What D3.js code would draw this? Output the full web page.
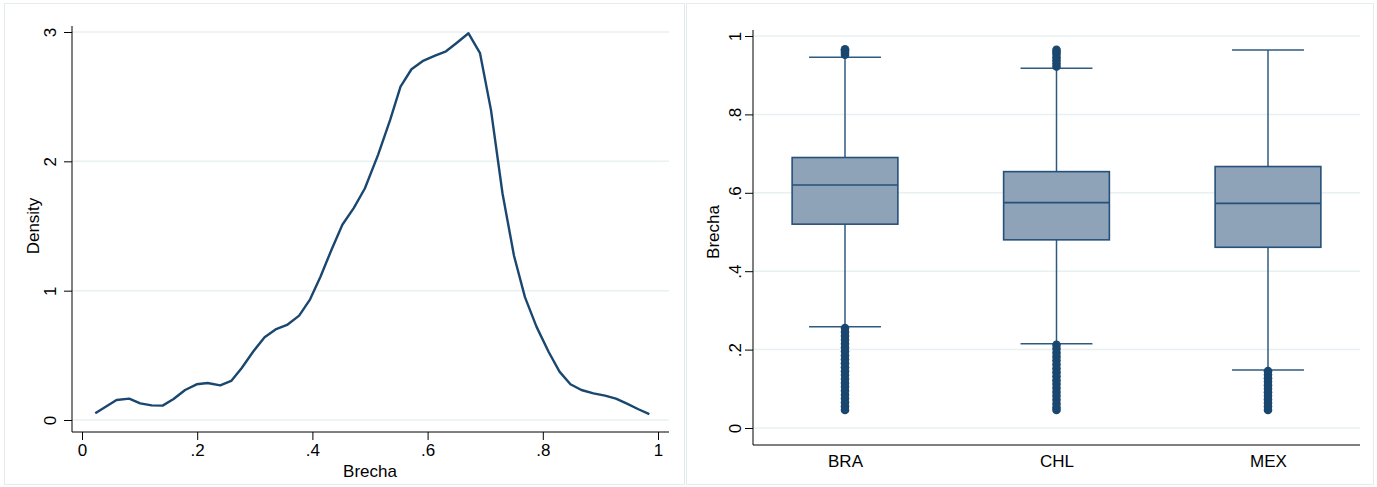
<!DOCTYPE html>
<meta charset="utf-8">
<style>
  body { margin: 0; background: #fff; }
  text { font-family: "Liberation Sans", Arial, sans-serif; }
</style>
<body>
  <div id="box1"></div>
</body>
<script src="https://d3js.org/d3.v7.min.js"></script>
<script>

// density of Brecha (left panel)
var densX = [0.023, 0.060, 0.082, 0.101, 0.121, 0.140, 0.159, 0.179, 0.199, 0.218, 0.240, 0.259,
             0.277, 0.297, 0.317, 0.336, 0.356, 0.377, 0.396, 0.414, 0.433, 0.452, 0.472, 0.491,
             0.514, 0.535, 0.553, 0.572, 0.593, 0.613, 0.632, 0.652, 0.671, 0.691, 0.710, 0.730,
             0.750, 0.769, 0.789, 0.810, 0.829, 0.848, 0.867, 0.888, 0.908, 0.927, 0.947, 0.966, 0.985]
var densY = [0.052, 0.155, 0.165, 0.129, 0.113, 0.111, 0.162, 0.232, 0.276, 0.286, 0.268, 0.302,
             0.400, 0.528, 0.640, 0.700, 0.735, 0.807, 0.933, 1.108, 1.315, 1.510, 1.640, 1.790,
             2.050, 2.320, 2.578, 2.712, 2.779, 2.818, 2.851, 2.921, 2.990, 2.836, 2.398, 1.753,
             1.270, 0.950, 0.722, 0.528, 0.374, 0.276, 0.232, 0.206, 0.188, 0.165, 0.124, 0.083, 0.046]
var densTicksX = [0, 0.2, 0.4, 0.6, 0.8, 1]
var densTicksY = [0, 1, 2, 3]

// box plots (right panel)
var countries = ["BRA", "CHL", "MEX"]
var q1 = [0.520, 0.480, 0.461]
var median = [0.620, 0.575, 0.573]
var q3 = [0.690, 0.654, 0.667]
var whiskLo = [0.258, 0.215, 0.148]
var whiskHi = [0.946, 0.918, 0.964]
var outHi = [
  [0.952, 0.958, 0.963, 0.966],
  [0.922, 0.930, 0.938, 0.946, 0.954, 0.960, 0.965],
  []
]
var outLo = [
  [0.255, 0.245, 0.235, 0.225, 0.215, 0.205, 0.195, 0.185, 0.175, 0.165, 0.155, 0.145, 0.135,
   0.125, 0.115, 0.105, 0.095, 0.085, 0.075, 0.065, 0.055, 0.046],
  [0.212, 0.202, 0.192, 0.182, 0.172, 0.162, 0.152, 0.142, 0.132, 0.122, 0.112, 0.102, 0.092,
   0.082, 0.072, 0.062, 0.052, 0.046],
  [0.145, 0.136, 0.127, 0.118, 0.109, 0.100, 0.091, 0.082, 0.073, 0.064, 0.055, 0.046]
]
var boxTicksY = [0, 0.2, 0.4, 0.6, 0.8, 1]

var navy = "#1a476f"
var grid = "#e9f0f2"
var fs = "17px"
var fmt = d => d3.format("")(d).replace(/^0\./, ".")

var width = 1377, height = 487

var svg = d3.select("#box1").append("svg")
    .attr("width", width)
    .attr("height", height)

// panel outlines
svg.append("rect").attr("x", 4.5).attr("y", 3.5).attr("width", 680).attr("height", 481)
    .attr("fill", "none").attr("stroke", "#e3ebee")
svg.append("rect").attr("x", 686.5).attr("y", 3.5).attr("width", 687).attr("height", 481)
    .attr("fill", "none").attr("stroke", "#e3ebee")

// ---------- left: density ----------
var lx = d3.scaleLinear().domain([0, 1]).range([82, 658])
var ly = d3.scaleLinear().domain([0, 3]).range([420, 32])
var lLeft = 72, lRight = 669, lBottom = 432

var gL = svg.append("g")

gL.selectAll(".grid").data(densTicksY).join("line")
    .attr("x1", lLeft).attr("x2", lRight)
    .attr("y1", d => ly(d)).attr("y2", d => ly(d))
    .attr("stroke", grid).attr("stroke-width", 1.5)

var yAxL = gL.append("g").attr("transform", "translate(" + lLeft + ",0)")
    .call(d3.axisLeft(ly).tickValues(densTicksY).tickSize(8).tickFormat(fmt))
yAxL.select(".domain").attr("d", "M0," + lBottom + "V26")
yAxL.selectAll("text").attr("transform", "rotate(-90)").attr("x", null).attr("dx", null)
    .attr("y", -22).attr("dy", "0.35em").style("text-anchor", "middle").style("font-size", fs)

var xAxL = gL.append("g").attr("transform", "translate(0," + lBottom + ")")
    .call(d3.axisBottom(lx).tickValues(densTicksX).tickSize(8).tickFormat(fmt))
xAxL.select(".domain").attr("d", "M" + lLeft + ",0H" + lRight)
xAxL.selectAll("text").attr("y", 12).style("font-size", fs)

gL.append("text").attr("x", 370).attr("y", 477).attr("text-anchor", "middle")
    .style("font-size", fs).text("Brecha")
gL.append("text").attr("transform", "translate(39,226) rotate(-90)").attr("text-anchor", "middle")
    .style("font-size", fs).text("Density")

var line = d3.line().x(d => lx(d[0])).y(d => ly(d[1]))
gL.append("path").datum(d3.zip(densX, densY))
    .attr("d", line).attr("fill", "none").attr("stroke", navy).attr("stroke-width", 2.4)
    .attr("stroke-linejoin", "round")

// ---------- right: box plots ----------
var rLeft = 753, rRight = 1360, rBottom = 445
var rx = d3.scalePoint().domain(countries).range([rLeft, rRight]).padding(0.435)
var ry = d3.scaleLinear().domain([0, 1]).range([428, 36])
var half = rx.step() * 0.25

var gR = svg.append("g")

gR.selectAll(".grid").data(boxTicksY).join("line")
    .attr("x1", rLeft).attr("x2", rRight)
    .attr("y1", d => ry(d)).attr("y2", d => ry(d))
    .attr("stroke", grid).attr("stroke-width", 1.5)

var yAxR = gR.append("g").attr("transform", "translate(" + rLeft + ",0)")
    .call(d3.axisLeft(ry).tickValues(boxTicksY).tickSize(8).tickFormat(fmt))
yAxR.select(".domain").attr("d", "M0," + rBottom + "V30")
yAxR.selectAll("text").attr("transform", "rotate(-90)").attr("x", null).attr("dx", null)
    .attr("y", -18).attr("dy", "0.35em").style("text-anchor", "middle").style("font-size", fs)

var xAxR = gR.append("g").attr("transform", "translate(0," + rBottom + ")")
    .call(d3.axisBottom(rx).tickSize(0))
xAxR.select(".domain").attr("d", "M" + rLeft + ",0H" + rRight)
xAxR.selectAll("text").attr("y", 10).style("font-size", fs)

gR.append("text").attr("transform", "translate(719,232) rotate(-90)").attr("text-anchor", "middle")
    .style("font-size", fs).text("Brecha")

countries.forEach(function(c, i) {
  var cx = rx(c)
  var g = gR.append("g")
  // whiskers
  g.append("line").attr("x1", cx).attr("x2", cx).attr("y1", ry(q3[i])).attr("y2", ry(whiskHi[i]))
      .attr("stroke", "#2f5a80").attr("stroke-width", 1.5)
  g.append("line").attr("x1", cx).attr("x2", cx).attr("y1", ry(q1[i])).attr("y2", ry(whiskLo[i]))
      .attr("stroke", "#2f5a80").attr("stroke-width", 1.5)
  ;[whiskHi[i], whiskLo[i]].forEach(function(w) {
    g.append("line").attr("x1", cx - half * 0.68).attr("x2", cx + half * 0.68)
        .attr("y1", ry(w)).attr("y2", ry(w))
        .attr("stroke", "#2f5a80").attr("stroke-width", 1.5)
  })
  // box
  g.append("rect").attr("x", cx - half).attr("width", 2 * half)
      .attr("y", ry(q3[i])).attr("height", ry(q1[i]) - ry(q3[i]))
      .attr("fill", "#8ea3b7").attr("stroke", "#26507a").attr("stroke-width", 1.6)
  g.append("line").attr("x1", cx - half).attr("x2", cx + half)
      .attr("y1", ry(median[i])).attr("y2", ry(median[i]))
      .attr("stroke", "#26507a").attr("stroke-width", 1.6)
  // outliers
  g.selectAll("circle").data(outHi[i].concat(outLo[i])).join("circle")
      .attr("cx", cx).attr("cy", d => ry(d)).attr("r", 4.3)
      .attr("fill", navy)
})

</script>
